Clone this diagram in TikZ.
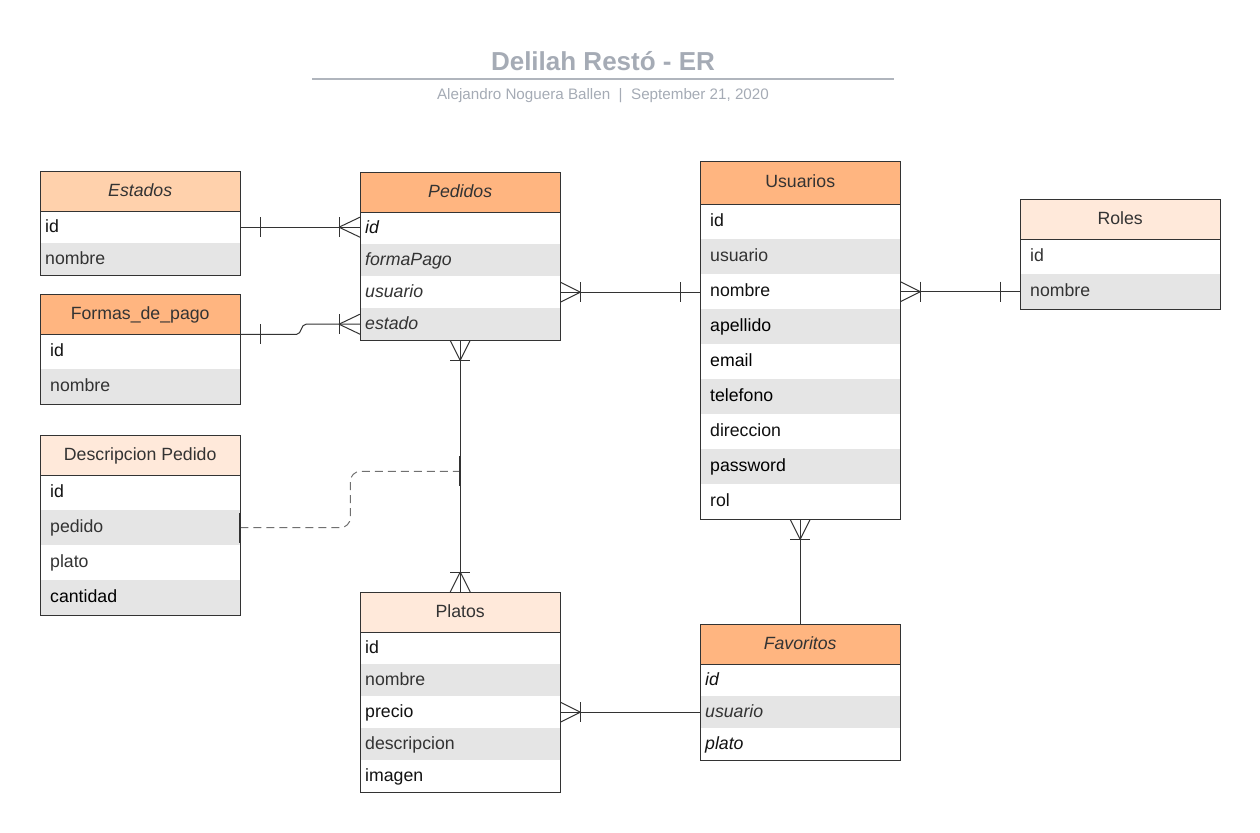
\documentclass[tikz,border=0pt]{standalone}
\usepackage{fontspec}
\setmainfont{Liberation Sans}
\usetikzlibrary{calc}
\definecolor{hdrA}{HTML}{FFB580}
\definecolor{hdrB}{HTML}{FFD1AC}
\definecolor{hdrC}{HTML}{FFE9DA}
\definecolor{rowgray}{HTML}{E5E5E5}
\definecolor{dk}{HTML}{333333}
\definecolor{bk}{HTML}{111111}
\definecolor{ttl}{HTML}{A5ABB5}
\definecolor{ttlline}{HTML}{B0B5BD}
\definecolor{dashc}{HTML}{707070}

\tikzset{
  hdr/.style={draw=none, minimum width=200pt, inner sep=0pt, text=dk,
    font=\fontsize{17.7}{21}\selectfont, text height=13.5pt, text depth=3.5pt},
  rowcell/.style={draw=none, inner ysep=0pt, align=left,
    font=\fontsize{17.7}{21}\selectfont, text height=13pt, text depth=3pt},
  bd/.style={draw=dk, line width=1pt},
  lnk/.style={draw=dk, line width=1pt},
  dashlnk/.style={draw=dashc, line width=1pt, dash pattern=on 8pt off 5pt, rounded corners=10pt},
  endbar/.style={draw=dk, line width=2pt},
}

% #1 name, #2 x, #3 y, #4 header h, #5 row h, #6 header fill, #7 title, #8 indent, #9 rows
\newcommand{\ertbl}[9]{%
  \node[hdr, fill=#6, minimum height=#4pt, anchor=north west] (#1) at (#2,#3) {#7};
  \pgfmathsetlengthmacro\tw{200pt-2*#8pt}
  \foreach \rtxt/\rcol [count=\ri] in {#9} {
    \pgfmathtruncatemacro\rpar{mod(\ri,2)}
    \ifnum\rpar=1 \def\rowfill{white}\else\def\rowfill{rowgray}\fi
    \node[rowcell, fill=\rowfill, text=\rcol, minimum height=#5pt, inner xsep=#8pt,
      text width=\tw, anchor=north west] (#1\ri) at (#2,{#3+#4+(\ri-1)*#5}) {\rtxt};
    \xdef\lastrow{\ri}
  }
  \draw[bd] (#1.north west) rectangle (#1\lastrow.south east);
  \draw[bd] (#1.south west) -- (#1.south east);
}
\newcommand{\erVbar}[1]{\draw[lnk] ($(#1)+(0,-10)$) -- ($(#1)+(0,10)$);}
\newcommand{\erHbar}[1]{\draw[lnk] ($(#1)+(-10,0)$) -- ($(#1)+(10,0)$);}
\newcommand{\crowH}[2]{\draw[lnk] (#1) -- ($(#2)+(0,-10)$) (#1) -- ($(#2)+(0,10)$);}
\newcommand{\crowV}[2]{\draw[lnk] (#1) -- ($(#2)+(-10,0)$) (#1) -- ($(#2)+(10,0)$);}

\begin{document}
\begin{tikzpicture}[x=1pt, y=-1pt]
\useasboundingbox (0,0) rectangle (1260,832);

% title
\node[font=\fontsize{26}{30}\selectfont\bfseries, text=ttl, anchor=base, inner sep=0pt] (title) at (603,71) {Delilah Restó - ER};
\coordinate (tl1) at (312,79);
\coordinate (tl2) at (894,79);
\draw[ttlline, line width=2pt] (tl1) -- (tl2);
\node[font=\fontsize{15.2}{18}\selectfont, text=ttl, anchor=base, inner sep=0pt] (sub) at (603,100) {Alejandro Noguera Ballen~~|~~September 21, 2020};

% tables
\ertbl{est}{40}{171}{40}{32}{hdrB}{\itshape Estados}{5}{id/bk, nombre/dk}
\ertbl{ped}{360}{172}{40}{32}{hdrA}{\itshape Pedidos}{5}{{\itshape id}/bk, {\itshape formaPago}/dk, {\itshape usuario}/dk, {\itshape estado}/dk}
\ertbl{fdp}{40}{294}{40}{35}{hdrA}{Formas\_de\_pago}{10}{id/bk, nombre/dk}
\ertbl{des}{40}{435}{40}{35}{hdrC}{Descripcion Pedido}{10}{id/bk, pedido/dk, plato/dk, cantidad/black}
\ertbl{usu}{700}{161}{43}{35}{hdrA}{Usuarios}{10}{id/bk, usuario/dk, nombre/bk, apellido/black, email/black, telefono/black, direccion/bk, password/black, rol/bk}
\ertbl{rol}{1020}{199}{40}{35}{hdrC}{Roles}{10}{id/dk, nombre/dk}
\ertbl{pla}{360}{592}{40}{32}{hdrC}{Platos}{5}{id/bk, nombre/dk, precio/bk, descripcion/dk, imagen/bk}
\ertbl{fav}{700}{624}{40}{32}{hdrA}{\itshape Favoritos}{5}{{\itshape id}/bk, {\itshape usuario}/dk, {\itshape plato}/bk}

% 1: Estados -- Pedidos
\coordinate (e1) at (est1.east -| ped.west);
\coordinate (b1) at ($(est1.east)+(20,0)$);
\coordinate (f1) at ($(e1)+(-21,0)$);
\draw[lnk] (est1.east) -- (e1);
\erVbar{b1} \erVbar{f1} \crowH{f1}{e1}

% 2: Formas_de_pago -- Pedidos.estado
\coordinate (b2) at ($(fdp.south east)+(20,0)$);
\coordinate (f2) at ($(ped4.west)+(-21,0)$);
\draw[lnk] (fdp.south east) -- ++(56,0) to[out=0,in=180] ([xshift=-54pt]ped4.west) -- (ped4.west);
\erVbar{b2} \erVbar{f2} \crowH{f2}{ped4.west}

% 3: Pedidos.usuario -- Usuarios
\coordinate (e3) at (ped3.east -| usu.west);
\coordinate (f3) at ($(ped3.east)+(20,0)$);
\coordinate (b3) at ($(e3)+(-20,0)$);
\draw[lnk] (ped3.east) -- (e3);
\erVbar{f3} \erVbar{b3} \crowH{f3}{ped3.east}

% 4: Usuarios -- Roles
\coordinate (e4) at (usu3.east -| rol.west);
\coordinate (f4) at ($(usu3.east)+(20,0)$);
\coordinate (b4) at ($(e4)+(-20,0)$);
\draw[lnk] (usu3.east) -- (e4);
\erVbar{f4} \erVbar{b4} \crowH{f4}{usu3.east}

% 5: Pedidos -- Platos
\coordinate (f5a) at ($(ped4.south)+(0,20)$);
\coordinate (f5b) at ($(pla.north)+(0,-20)$);
\draw[lnk] (ped4.south) -- (pla.north);
\erHbar{f5a} \crowV{f5a}{ped4.south}
\erHbar{f5b} \crowV{f5b}{pla.north}

% 6: Descripcion Pedido -- Pedidos/Platos relation (dashed)
\coordinate (dj) at ($(ped4.south)+(0,131)$);
\draw[dashlnk] (des2.east) -| ($(des2.east)!0.5!(dj)$) |- (dj);
\draw[endbar] ($(des2.east)+(0,-15)$) -- ($(des2.east)+(0,15)$);
\draw[endbar] ($(dj)+(0,-15)$) -- ($(dj)+(0,15)$);

% 7: Usuarios -- Favoritos
\coordinate (f7) at ($(usu9.south)+(0,20)$);
\draw[lnk] (usu9.south) -- (fav.north);
\erHbar{f7} \crowV{f7}{usu9.south}

% 8: Platos -- Favoritos
\coordinate (e8) at (pla3.east -| fav.west);
\coordinate (f8) at ($(pla3.east)+(20,0)$);
\draw[lnk] (pla3.east) -- (e8);
\erVbar{f8} \crowH{f8}{pla3.east}
\end{tikzpicture}
\end{document}
